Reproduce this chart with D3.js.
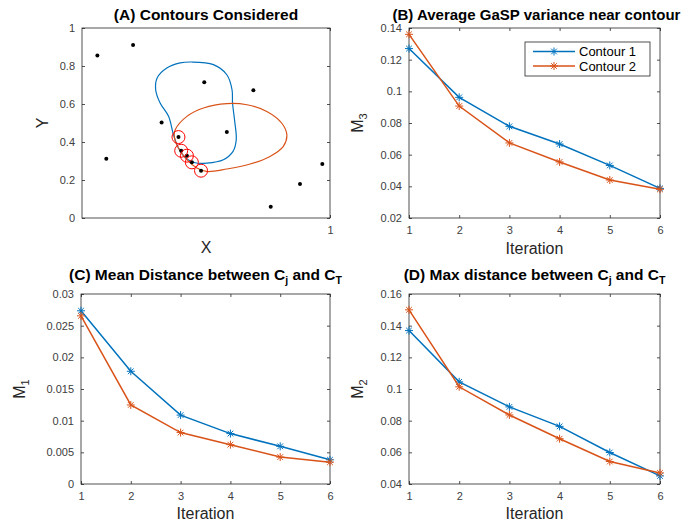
<!DOCTYPE html>
<html><head><meta charset="utf-8">
<script src="https://cdn.jsdelivr.net/npm/d3@7"></script>
<style>body{margin:0;background:#fff}svg{display:block;font-family:"Liberation Sans",Arial,Helvetica,sans-serif}</style>
</head><body><svg id="c" width="690" height="523"></svg>
<script>
// ---------- data ----------
const iterations = [1, 2, 3, 4, 5, 6];
const seriesNames = ["Contour 1", "Contour 2"];
const m3Contour1 = [0.127, 0.0962, 0.0779, 0.0667, 0.0532, 0.0387];
const m3Contour2 = [0.136, 0.0907, 0.0674, 0.0554, 0.0440, 0.0381];
const m1Contour1 = [0.02735, 0.0178, 0.01088, 0.00796, 0.00595, 0.00382];
const m1Contour2 = [0.02655, 0.01248, 0.00812, 0.00621, 0.00425, 0.00345];
const m2Contour1 = [0.1369, 0.1045, 0.0887, 0.0764, 0.0599, 0.0451];
const m2Contour2 = [0.150, 0.1014, 0.0836, 0.0686, 0.0542, 0.047];
const ticksA_Y = [0, 0.2, 0.4, 0.6, 0.8, 1];
const ticksA_X = [1];
const ticksB_Y = [0.02, 0.04, 0.06, 0.08, 0.1, 0.12, 0.14];
const ticksC_Y = [0, 0.005, 0.01, 0.015, 0.02, 0.025, 0.03];
const ticksD_Y = [0.04, 0.06, 0.08, 0.1, 0.12, 0.14, 0.16];
const designPoints = [[0.062,0.855],[0.206,0.91],[0.098,0.312],[0.321,0.503],[0.493,0.714],
  [0.691,0.672],[0.584,0.453],[0.761,0.059],[0.879,0.179],[0.969,0.284]];
const selectedPoints = [[0.389,0.426],[0.40,0.354],[0.423,0.328],[0.443,0.293],[0.48,0.249]];
const contour1 = [[0.443,0.821],[0.530,0.807],[0.584,0.754],[0.605,0.675],[0.607,0.605],[0.615,0.517],
  [0.622,0.412],[0.609,0.351],[0.570,0.307],[0.503,0.289],[0.456,0.291],[0.416,0.318],[0.389,0.368],
  [0.369,0.438],[0.349,0.535],[0.315,0.605],[0.297,0.675],[0.303,0.737],[0.342,0.789],[0.396,0.816]];
const contour2 = [[0.376,0.465],[0.423,0.535],[0.490,0.579],[0.584,0.602],[0.665,0.596],[0.745,0.561],
  [0.805,0.500],[0.826,0.438],[0.812,0.377],[0.758,0.324],[0.678,0.284],[0.584,0.258],[0.503,0.245],
  [0.463,0.263],[0.423,0.307],[0.389,0.368],[0.372,0.429]];

// ---------- style ----------
const BLUE = "#0072BD", ORANGE = "#D95319", AX = "#262626", TXT = "#404040";
const svg = d3.select("#c");
const fmt = v => String(+v.toFixed(4));

function frame(L, R, T, B, xs, ys, xticks, yticks) {
  const g = svg.append("g");
  const tk = 3;
  g.append("rect").attr("x", L).attr("y", T).attr("width", R - L).attr("height", B - T)
    .attr("fill", "none").attr("stroke", AX).attr("stroke-width", 0.8);
  const ax = (gen, tr) => {
    const a = g.append("g").attr("transform", tr).call(gen);
    a.select(".domain").remove();
    a.selectAll("line").attr("stroke", AX).attr("stroke-width", 0.8);
    a.selectAll("text").attr("fill", TXT).attr("font-size", 11).attr("font-family", null);
    return a;
  };
  ax(d3.axisLeft(ys).tickValues(yticks).tickSizeInner(-tk).tickSizeOuter(0).tickPadding(7).tickFormat(fmt), `translate(${L},0)`);
  ax(d3.axisRight(ys).tickValues(yticks).tickSizeInner(-tk).tickSizeOuter(0).tickFormat(""), `translate(${R},0)`);
  ax(d3.axisBottom(xs).tickValues(xticks).tickSizeInner(-tk).tickSizeOuter(0).tickPadding(8).tickFormat(fmt), `translate(0,${B})`);
  ax(d3.axisTop(xs).tickValues(xticks).tickSizeInner(-tk).tickSizeOuter(0).tickFormat(""), `translate(0,${T})`);
  return g;
}

function title(x, y, parts, size) {
  const t = svg.append("text").attr("x", x).attr("y", y).attr("text-anchor", "middle")
    .attr("font-weight", "bold").attr("font-size", size || 15.5).attr("fill", "#000");
  parts.forEach(p => {
    const s = t.append("tspan").text(p.t);
    if (p.sub) s.attr("font-size", 10.5).attr("dy", 4);
    if (p.up) s.attr("dy", -4);
  });
}

function ylabel(x, y, main, sub) {
  const t = svg.append("text").attr("transform", `translate(${x},${y}) rotate(-90)`)
    .attr("text-anchor", "middle").attr("font-size", 16).attr("fill", AX);
  t.append("tspan").text(main);
  if (sub) t.append("tspan").text(sub).attr("font-size", 11).attr("dy", 4);
}
function xlabel(x, y, s) {
  svg.append("text").attr("x", x).attr("y", y).attr("text-anchor", "middle")
    .attr("font-size", 16).attr("fill", AX).text(s);
}

function star(g, cx, cy, color) {
  const r = 4, d = r * Math.SQRT1_2;
  g.append("path").attr("d",
    `M${cx - r},${cy}L${cx + r},${cy}M${cx},${cy - r}L${cx},${cy + r}` +
    `M${cx - d},${cy - d}L${cx + d},${cy + d}M${cx - d},${cy + d}L${cx + d},${cy - d}`)
    .attr("stroke", color).attr("stroke-width", 1).attr("fill", "none");
}

function linePanel(L, R, T, B, ydom, yticks, s1, s2) {
  const xs = d3.scaleLinear().domain([1, 6]).range([L, R]);
  const ys = d3.scaleLinear().domain(ydom).range([B, T]);
  frame(L, R, T, B, xs, ys, iterations, yticks);
  const g = svg.append("g");
  [[s1, BLUE], [s2, ORANGE]].forEach(([s, c]) => {
    const line = d3.line().x((d, i) => xs(iterations[i])).y(d => ys(d));
    g.append("path").attr("d", line(s)).attr("fill", "none").attr("stroke", c).attr("stroke-width", 1.5);
    s.forEach((d, i) => star(g, xs(iterations[i]), ys(d), c));
  });
  return { xs, ys };
}

// ---------- Panel A ----------
{
  const L = 82, R = 330, T = 28, B = 218;
  const xs = d3.scaleLinear().domain([0, 1]).range([L, R]);
  const ys = d3.scaleLinear().domain([0, 1]).range([B, T]);
  frame(L, R, T, B, xs, ys, ticksA_X, ticksA_Y);
  const line = d3.line().x(d => xs(d[0])).y(d => ys(d[1])).curve(d3.curveCatmullRomClosed.alpha(0.5));
  svg.append("path").attr("d", line(contour1)).attr("fill", "none").attr("stroke", BLUE).attr("stroke-width", 1.2);
  svg.append("path").attr("d", line(contour2)).attr("fill", "none").attr("stroke", ORANGE).attr("stroke-width", 1.2);
  designPoints.concat(selectedPoints).forEach(p =>
    svg.append("circle").attr("cx", xs(p[0])).attr("cy", ys(p[1])).attr("r", 2).attr("fill", "#000"));
  selectedPoints.forEach(p =>
    svg.append("circle").attr("cx", xs(p[0])).attr("cy", ys(p[1])).attr("r", 6.5)
      .attr("fill", "none").attr("stroke", "#ff0000").attr("stroke-width", 1));
  title((L + R) / 2, 20, [{ t: "(A) Contours Considered" }]);
  xlabel((L + R) / 2, 253, "X");
  ylabel(48, (T + B) / 2, "Y");
}

// ---------- Panel B ----------
{
  const L = 409, R = 660, T = 28, B = 218;
  linePanel(L, R, T, B, [0.02, 0.14], ticksB_Y, m3Contour1, m3Contour2);
  title((L + R) / 2 + 2, 19.5, [{ t: "(B) Average GaSP variance near contour" }], 15);
  xlabel((L + R) / 2, 254, "Iteration");
  ylabel(L - 46, (T + B) / 2, "M", "3");
  const lg = svg.append("g");
  lg.append("rect").attr("x", 525).attr("y", 42).attr("width", 125).attr("height", 34)
    .attr("fill", "#fff").attr("stroke", AX).attr("stroke-width", 0.8);
  [[BLUE, 51.5], [ORANGE, 66]].forEach(([c, y], i) => {
    lg.append("line").attr("x1", 533).attr("x2", 575).attr("y1", y).attr("y2", y)
      .attr("stroke", c).attr("stroke-width", 1.5);
    star(lg, 554, y, c);
    lg.append("text").attr("x", 579).attr("y", y + 4.5).attr("font-size", 13).attr("fill", "#000").text(seriesNames[i]);
  });
}

// ---------- Panel C ----------
{
  const L = 81, R = 330, T = 294, B = 484;
  linePanel(L, R, T, B, [0, 0.03], ticksC_Y, m1Contour1, m1Contour2);
  title((L + R) / 2, 280, [{ t: "(C) Mean Distance between C" }, { t: "j", sub: true }, { t: " and C", up: true }, { t: "T", sub: true }]);
  xlabel((L + R) / 2, 519, "Iteration");
  ylabel(L - 56, (T + B) / 2, "M", "1");
}

// ---------- Panel D ----------
{
  const L = 409, R = 660, T = 294, B = 484;
  linePanel(L, R, T, B, [0.04, 0.16], ticksD_Y, m2Contour1, m2Contour2);
  title((L + R) / 2, 280, [{ t: "(D) Max distance between C" }, { t: "j", sub: true }, { t: " and C", up: true }, { t: "T", sub: true }]);
  xlabel((L + R) / 2, 519, "Iteration");
  ylabel(L - 46, (T + B) / 2, "M", "2");
}
</script></body></html>
